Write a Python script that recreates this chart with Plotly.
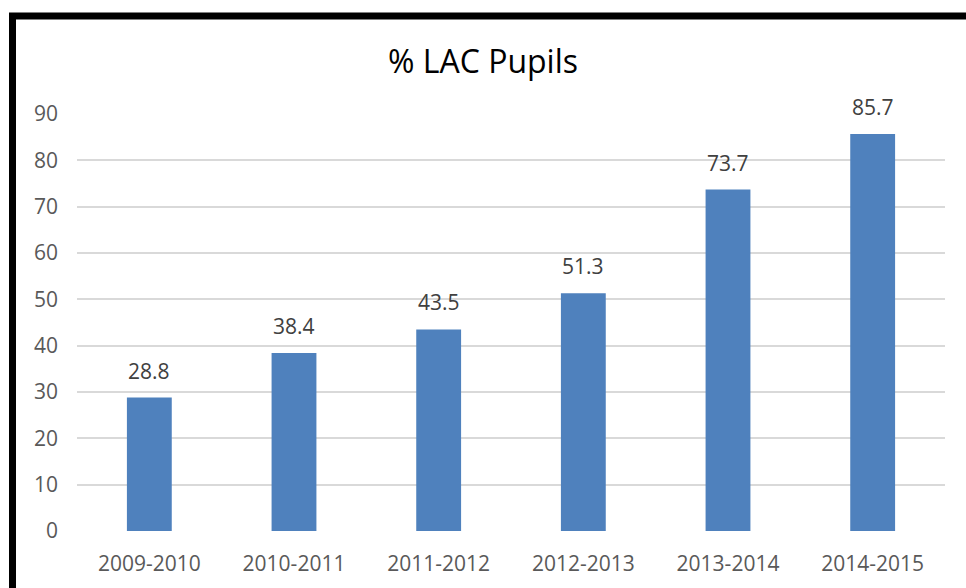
import plotly.graph_objects as go

years = ['2009-2010', '2010-2011', '2011-2012', '2012-2013', '2013-2014', '2014-2015']
lac_pct = [28.8, 38.4, 43.5, 51.3, 73.7, 85.7]
y_ticks = [0, 10, 20, 30, 40, 50, 60, 70, 80, 90]

BAR = '#4F81BD'
FONT = 'Open Sans'

fig = go.Figure()
fig.add_trace(go.Bar(x=years, y=lac_pct, marker=dict(color=BAR, line=dict(width=0)),
                     hoverinfo='x+y'))

# value labels sit a bit above each bar, like Excel's data labels
for yr, v in zip(years, lac_pct):
    fig.add_annotation(x=yr, y=v, text=f'{v:.1f}', showarrow=False,
                       yanchor='bottom', yshift=11,
                       font=dict(family=FONT, size=21, color='#404040'))

fig.update_layout(
    width=966, height=588,
    margin=dict(l=77, r=21, t=114, b=57),
    paper_bgcolor='white', plot_bgcolor='white',
    bargap=0.69, showlegend=False,
    title=dict(text='% LAC Pupils', x=0.5, xanchor='center', y=0.895, yanchor='middle',
               font=dict(family=FONT, size=32, color='#000000')),
    font=dict(family=FONT, size=21, color='#595959'),
    xaxis=dict(showgrid=False, showline=False, ticks='', ticklabelstandoff=18,
               tickfont=dict(family=FONT, size=21, color='#595959')),
    yaxis=dict(range=[0, 90], tickvals=y_ticks, showgrid=True, gridcolor='#D9D9D9',
               gridwidth=2, zeroline=False, showline=False, ticks='',
               ticklabelstandoff=18,
               tickfont=dict(family=FONT, size=21, color='#595959')),
)

# black frame around the chart (cropped at right and bottom)
fig.add_shape(type='rect', xref='paper', yref='paper',
              x0=-0.0743, x1=1.5, y0=-0.5, y1=1.235,
              line=dict(color='black', width=7), fillcolor='rgba(0,0,0,0)', layer='above')

# drop the default page margin so the figure fills the window
fig.write_html('out.html', config={'displayModeBar': False},
               post_script="document.body.style.margin='0';"
                           "document.body.style.overflow='hidden';")
